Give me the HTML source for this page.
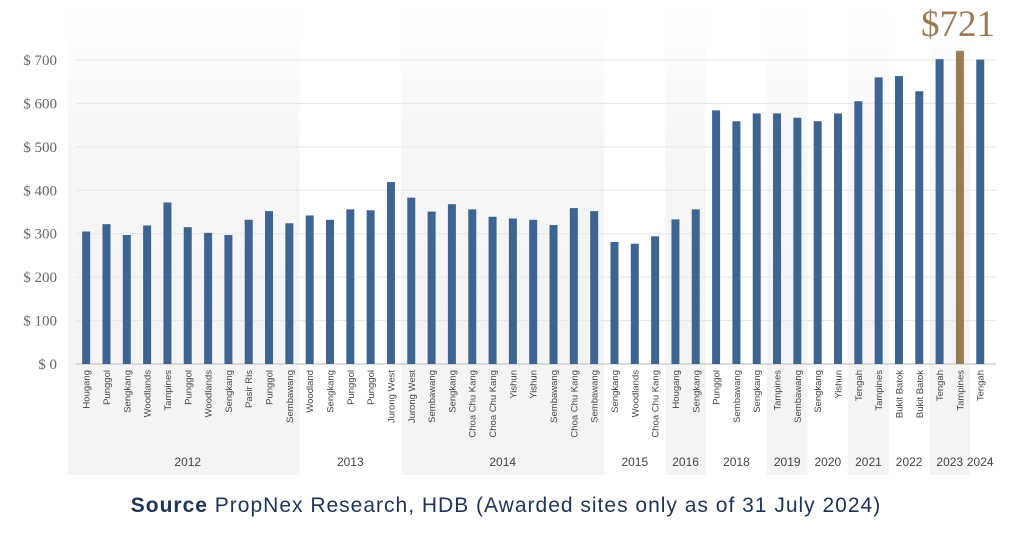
<!DOCTYPE html>
<html><head><meta charset="utf-8"><style>
body{margin:0;background:#fff;width:1024px;height:536px;overflow:hidden;font-family:"Liberation Sans",sans-serif}
</style></head><body>
<svg width="1024" height="536" xmlns="http://www.w3.org/2000/svg">
<defs><linearGradient id="bandg" x1="0" y1="0" x2="0" y2="1"><stop offset="0" stop-color="#f5f5f5" stop-opacity="0"/><stop offset="0.35" stop-color="#f5f5f5" stop-opacity="1"/><stop offset="1" stop-color="#f4f4f4"/></linearGradient></defs>
<g id="bands"></g><g id="grid"></g><g id="bars"></g><g id="labels"></g>
<text x="958" y="36" text-anchor="middle" font-family="Liberation Serif,serif" font-size="37" fill="#9b7b55">$721</text>
<text x="506" y="512" text-anchor="middle" font-size="21" letter-spacing="1" fill="#1f3354"><tspan font-weight="bold">Source</tspan>  PropNex Research, HDB (Awarded sites only as of 31 July 2024)</text>
</svg>
<script>
const years=["2012","2013","2014","2015","2016","2018","2019","2020","2021","2022","2023","2024"];
const yearCounts=[11,5,10,3,2,3,2,2,2,2,2,1];
const sites=["Hougang","Punggol","Sengkang","Woodlands","Tampines","Punggol","Woodlands","Sengkang","Pasir Ris","Punggol","Sembawang",
"Woodland","Sengkang","Punggol","Punggol","Jurong West",
"Jurong West","Sembawang","Sengkang","Choa Chu Kang","Choa Chu Kang","Yishun","Yishun","Sembawang","Choa Chu Kang","Sembawang",
"Sengkang","Woodlands","Choa Chu Kang","Hougang","Sengkang","Punggol","Sembawang","Sengkang","Tampines","Sembawang",
"Sengkang","Yishun","Tengah","Tampines","Bukit Batok","Bukit Batok","Tengah","Tampines","Tengah"];
const prices=[305,322,297,319,372,315,302,297,332,352,324,
342,332,356,354,419,
383,351,368,356,339,335,332,320,359,352,
281,277,294,333,356,584,559,577,577,567,
559,577,605,660,663,628,702,721,701];
const highlightIndex=43;
const yTicks=[0,100,200,300,400,500,600,700];
const NS="http://www.w3.org/2000/svg";
const L=76,BW=20.32,Y0=364,PX=0.4343;
const x=i=>L+BW*(i+0.5), y=v=>Y0-v*PX;
function mk(t,a,p){const e=document.createElementNS(NS,t);for(const k in a)e.setAttribute(k,a[k]);document.getElementById(p).appendChild(e);return e;}
let s=0;
years.forEach((yr,k)=>{
 const c=yearCounts[k];
 if(k%2===0){const r=mk('rect',{x:L+BW*s-(k===0?8:0),y:10,width:BW*c+(k===0?8:0),height:465,fill:'url(#bandg)'},'bands');
 
 }
 const t=mk('text',{x:L+BW*(s+c/2),y:466,'text-anchor':'middle','font-size':12,fill:'#444'},'labels');
 
 
 t.textContent=yr;s+=c;});
yTicks.forEach(v=>{
 const g=mk('line',{x1:L,x2:996,y1:y(v),y2:y(v),stroke:v===0?'#d0d0d0':'#e6e6e6','stroke-width':v===0?1.5:1},'grid');
 
 
 const t=mk('text',{x:57,y:y(v)+5,'text-anchor':'end','font-family':'Liberation Serif,serif','font-size':15,fill:'#666'},'grid');
 
 
 t.textContent='$ '+v;});
prices.forEach((v,i)=>{
 const b=mk('rect',{x:x(i)-4,y:y(v),width:8,height:Y0-y(v),fill:i===highlightIndex?'#9b7b55':'#3e6591'},'bars');
 
 
 const t=mk('text',{transform:`translate(${x(i)+3.5},${370}) rotate(-90)`,'text-anchor':'end','font-size':9.5,fill:'#444'},'labels');
 
 
 t.textContent=sites[i];});
</script>
</body></html>
